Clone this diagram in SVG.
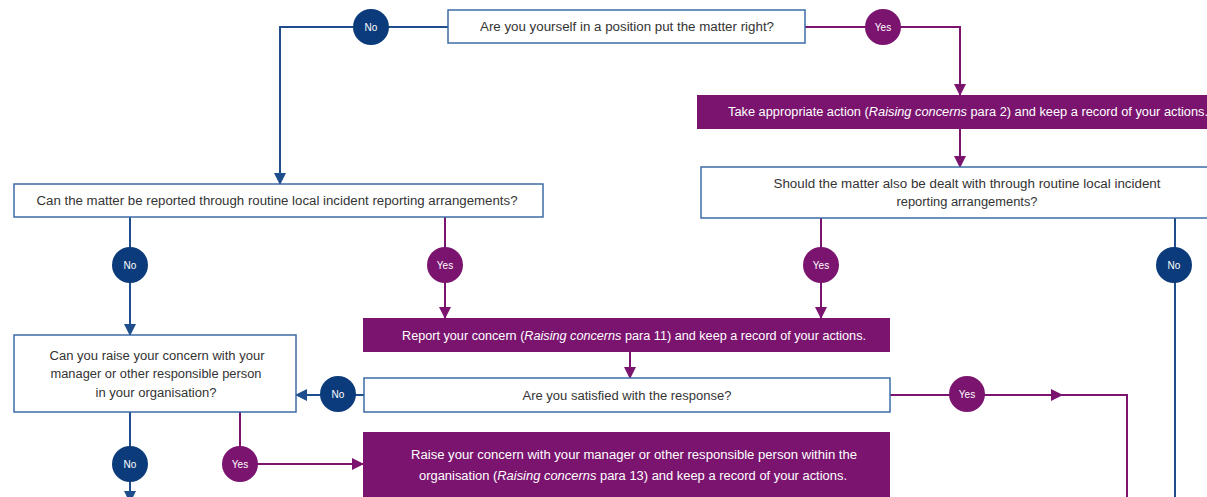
<svg xmlns="http://www.w3.org/2000/svg" width="1207" height="497" viewBox="0 0 1207 497">
<style>
.q{fill:#fff;stroke:#3d6ca6;stroke-width:1.5}
.a{fill:#7b146f}
.t{font-family:"Liberation Sans",Arial,sans-serif;font-size:12px;fill:#333;text-anchor:middle}
.tw{font-family:"Liberation Sans",Arial,sans-serif;font-size:12px;fill:#fff;text-anchor:middle}
.i{font-style:italic}
.cb{fill:#0b3b7a}
.cp{fill:#7b146f}
.cl{font-family:"Liberation Sans",Arial,sans-serif;font-size:10px;fill:#fff;text-anchor:middle}
.lb{fill:none;stroke:#1f4e8c;stroke-width:2}
.lp{fill:none;stroke:#7b146f;stroke-width:2}
</style>
<defs>
<marker id="ab" markerUnits="userSpaceOnUse" markerWidth="12" markerHeight="12" refX="11" refY="6" orient="auto"><path d="M0,0 L12,6 L0,12 z" fill="#1f4e8c"/></marker>
<marker id="ap" markerUnits="userSpaceOnUse" markerWidth="12" markerHeight="12" refX="11" refY="6" orient="auto"><path d="M0,0 L12,6 L0,12 z" fill="#7b146f"/></marker>
</defs>
<rect width="1207" height="497" fill="#fff"/>
<g id="connectors">
<path class="lb" d="M448,27 H280 V184" marker-end="url(#ab)"/>
<path class="lp" d="M805,27 H960 V95" marker-end="url(#ap)"/>
<path class="lp" d="M960,129 V167" marker-end="url(#ap)"/>
<path class="lb" d="M130,217 V335" marker-end="url(#ab)"/>
<path class="lp" d="M445,217 V318" marker-end="url(#ap)"/>
<path class="lp" d="M821,218 V318" marker-end="url(#ap)"/>
<path class="lb" d="M1175,218 V497"/>
<path class="lp" d="M630,352 V378" marker-end="url(#ap)"/>
<path class="lb" d="M364,395 H296" marker-end="url(#ab)"/>
<path class="lp" d="M890,395 H1062" marker-end="url(#ap)"/>
<path class="lp" d="M1060,395 H1127 V497"/>
<path class="lb" d="M130,412 V502" marker-end="url(#ab)"/>
<path class="lp" d="M240,412 V464 H363" marker-end="url(#ap)"/>
</g>
<g id="n1"><rect class="q" x="448" y="10" width="357" height="33"/><text class="t" x="627" y="31" textLength="294" lengthAdjust="spacingAndGlyphs">Are you yourself in a position put the matter right?</text></g>
<g id="n2"><rect class="a" x="697" y="95" width="520" height="34"/><text class="tw" x="728" y="116" style="text-anchor:start" textLength="480" lengthAdjust="spacingAndGlyphs">Take appropriate action (<tspan class="i">Raising concerns</tspan> para 2) and keep a record of your actions.</text></g>
<g id="n3"><rect class="q" x="701" y="167" width="520" height="51"/><text class="t" x="967" y="188" textLength="387" lengthAdjust="spacingAndGlyphs">Should the matter also be dealt with through routine local incident</text><text class="t" x="967" y="206" textLength="141" lengthAdjust="spacingAndGlyphs">reporting arrangements?</text></g>
<g id="n4"><rect class="q" x="14" y="184" width="529" height="33"/><text class="t" x="277" y="205" textLength="481" lengthAdjust="spacingAndGlyphs">Can the matter be reported through routine local incident reporting arrangements?</text></g>
<g id="n5"><rect class="a" x="363" y="318" width="527" height="34"/><text class="tw" x="634" y="340" textLength="464" lengthAdjust="spacingAndGlyphs">Report your concern (<tspan class="i">Raising concerns</tspan> para 11) and keep a record of your actions.</text></g>
<g id="n6"><rect class="q" x="364" y="378" width="526" height="34"/><text class="t" x="627" y="400" textLength="209" lengthAdjust="spacingAndGlyphs">Are you satisfied with the response?</text></g>
<g id="n7"><rect class="q" x="14" y="335" width="282" height="77"/><text class="t" x="157" y="360" textLength="215" lengthAdjust="spacingAndGlyphs">Can you raise your concern with your</text><text class="t" x="156" y="378" textLength="211" lengthAdjust="spacingAndGlyphs">manager or other responsible person</text><text class="t" x="156" y="397" textLength="121" lengthAdjust="spacingAndGlyphs">in your organisation?</text></g>
<g id="n8"><rect class="a" x="363" y="432" width="527" height="80"/><text class="tw" x="634" y="459" textLength="446" lengthAdjust="spacingAndGlyphs">Raise your concern with your manager or other responsible person within the</text><text class="tw" x="633" y="480" textLength="428" lengthAdjust="spacingAndGlyphs">organisation (<tspan class="i">Raising concerns</tspan> para 13) and keep a record of your actions.</text></g>
<g id="c1"><circle class="cb" cx="371" cy="27" r="18"/><text class="cl" x="371" y="31">No</text></g>
<g id="c2"><circle class="cp" cx="883" cy="27" r="18"/><text class="cl" x="883" y="31">Yes</text></g>
<g id="c3"><circle class="cb" cx="130" cy="265" r="18"/><text class="cl" x="130" y="269">No</text></g>
<g id="c4"><circle class="cp" cx="445" cy="265" r="18"/><text class="cl" x="445" y="269">Yes</text></g>
<g id="c5"><circle class="cp" cx="821" cy="265" r="18"/><text class="cl" x="821" y="269">Yes</text></g>
<g id="c6"><circle class="cb" cx="1174" cy="265" r="18"/><text class="cl" x="1174" y="269">No</text></g>
<g id="c7"><circle class="cb" cx="338" cy="394" r="18"/><text class="cl" x="338" y="398">No</text></g>
<g id="c8"><circle class="cp" cx="967" cy="394" r="18"/><text class="cl" x="967" y="398">Yes</text></g>
<g id="c9"><circle class="cb" cx="130" cy="464" r="18"/><text class="cl" x="130" y="468">No</text></g>
<g id="c10"><circle class="cp" cx="240" cy="464" r="18"/><text class="cl" x="240" y="468">Yes</text></g>
</svg>
